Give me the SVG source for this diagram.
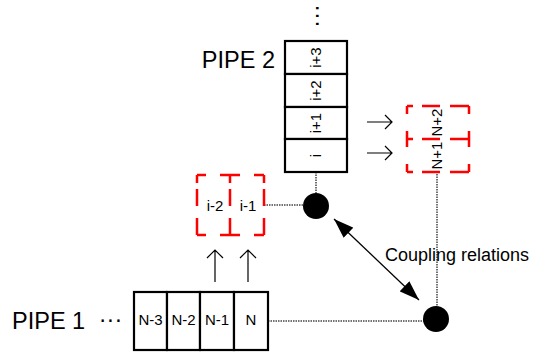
<svg xmlns="http://www.w3.org/2000/svg" width="540" height="352" viewBox="0 0 540 352">
  <defs>
    <style>
      text { font-family: "Liberation Sans", Arial, sans-serif; fill: #000; }
      .big { font-size: 23.5px; }
      .cell { font-size: 15px; text-anchor: middle; }
      .lbl { font-size: 18px; }
      .box { fill: #fff; stroke: #000; stroke-width: 2.2; }
      .red { fill: none; stroke: #f00; stroke-width: 2.5; }
      .dot { fill: none; stroke: #444; stroke-width: 1.5; stroke-dasharray: 1.5 1; }
      .thin { fill: none; stroke: #000; stroke-width: 1.2; }
      .node { fill: #000; }
    </style>
    <marker id="tri" viewBox="0 0 20 14" refX="20" refY="7" markerWidth="20" markerHeight="14" markerUnits="userSpaceOnUse" orient="auto-start-reverse">
      <path d="M0,0 L20,7 L0,14 z" fill="#000"/>
    </marker>
  </defs>

  <g id="connectors">
    <path class="dot" d="M316,172 V193"/>
    <path class="dot" d="M264,205 H303"/>
    <path class="dot" d="M268,321 H424"/>
    <path class="dot" d="M437,174 V306"/>
    <line x1="334" y1="219" x2="419" y2="300" stroke="#000" stroke-width="1.3" marker-start="url(#tri)" marker-end="url(#tri)"/>
    <path class="thin" d="M367,122 H392 M385,115 L392,122 L385,129"/>
    <path class="thin" d="M367,153 H392 M385,146 L392,153 L385,160"/>
    <path class="thin" d="M215,282 V250 M207,258 L215,250 L223,258"/>
    <path class="thin" d="M248,282 V250 M240,258 L248,250 L256,258"/>
  </g>

  <g id="pipe2">
    <text class="big" x="275" y="68" text-anchor="end">PIPE 2</text>
    <text class="big" transform="translate(310.5,16) rotate(90)" text-anchor="middle">···</text>
    <g id="cell-i3">
      <rect class="box" x="285" y="41" width="62" height="33"/>
      <text class="cell" transform="translate(321,57.5) rotate(-90)">i+3</text>
    </g>
    <g id="cell-i2">
      <rect class="box" x="285" y="74" width="62" height="33"/>
      <text class="cell" transform="translate(321,90.5) rotate(-90)">i+2</text>
    </g>
    <g id="cell-i1">
      <rect class="box" x="285" y="107" width="62" height="32"/>
      <text class="cell" transform="translate(321,123) rotate(-90)">i+1</text>
    </g>
    <g id="cell-i">
      <rect class="box" x="285" y="139" width="62" height="33"/>
      <text class="cell" transform="translate(321,155.5) rotate(-90)">i</text>
    </g>
  </g>

  <g id="ghost-i2">
    <path class="red" d="M197,175 h9 M220,175 h10 M197,235 h9 M220,235 h10 M197,175 v8 M197,189 v17 M197,218 v17 M230,175 v8 M230,189 v17 M230,218 v17"/>
    <text class="cell" x="215" y="211">i-2</text>
  </g>
  <g id="ghost-i1">
    <path class="red" d="M230,175 h10 M254,175 h10 M230,235 h10 M254,235 h10 M264,175 v8 M264,189 v17 M264,218 v17"/>
    <text class="cell" x="248" y="211">i-1</text>
  </g>

  <g id="ghost-n2">
    <path class="red" d="M407,106 h6 M422,106 h18 M450,106 h19 M407,139 h6 M422,139 h18 M450,139 h19 M407,106 v8 M407,131 v8 M469,106 v8 M469,131 v8"/>
    <text class="cell" transform="translate(442,122.5) rotate(-90)">N+2</text>
  </g>
  <g id="ghost-n1">
    <path class="red" d="M407,172 h6 M422,172 h18 M450,172 h19 M407,139 v8 M407,164 v8 M469,139 v8 M469,164 v8"/>
    <text class="cell" transform="translate(442,155.5) rotate(-90)">N+1</text>
  </g>

  <g id="pipe1">
    <text class="big" x="12" y="329">PIPE 1</text>
    <text class="big" x="110.5" y="327" text-anchor="middle">···</text>
    <g id="cell-n3">
      <rect class="box" x="134" y="292" width="33" height="58"/>
      <text class="cell" x="150.5" y="325">N-3</text>
    </g>
    <g id="cell-n2">
      <rect class="box" x="167" y="292" width="33" height="58"/>
      <text class="cell" x="183.5" y="325">N-2</text>
    </g>
    <g id="cell-n1">
      <rect class="box" x="200" y="292" width="34" height="58"/>
      <text class="cell" x="217" y="325">N-1</text>
    </g>
    <g id="cell-n">
      <rect class="box" x="234" y="292" width="34" height="58"/>
      <text class="cell" x="251" y="325">N</text>
    </g>
  </g>

  <g id="node-top">
    <circle class="node" cx="316" cy="206" r="13"/>
  </g>
  <g id="node-bottom">
    <circle class="node" cx="436" cy="319" r="13"/>
  </g>

  <g id="coupling-label">
    <text class="lbl" x="385" y="261">Coupling relations</text>
  </g>
</svg>
